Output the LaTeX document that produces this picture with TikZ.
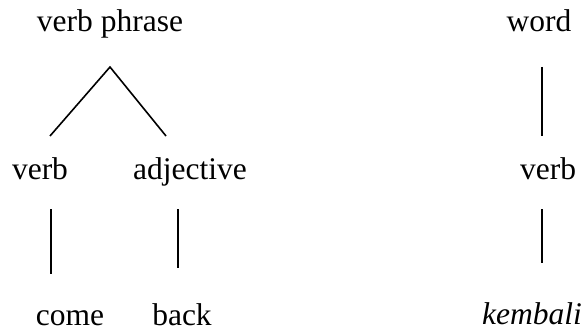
\documentclass[tikz,border=0pt]{standalone}
\usepackage{fontspec}
\setmainfont{Liberation Serif}
\usepackage{tikz}

\tikzset{
  lbl/.style={anchor=base, inner sep=0pt, font=\fontsize{31.5}{36}\selectfont},
  branch/.style={line width=1.6pt}
}

\begin{document}
\begin{tikzpicture}[x=1pt,y=-1pt]
  \useasboundingbox (0,0) rectangle (585,331);

  % left tree
  \node[lbl] (vp)   at (110,32)  {verb phrase};
  \node[lbl] (v)    at (40,179)  {verb};
  \node[lbl] (adj)  at (190,179) {adjective};
  \node[lbl] (come) at (70,325)  {come};
  \node[lbl] (back) at (182,325) {back};

  % right tree
  \node[lbl] (wd)   at (539,32)  {word};
  \node[lbl] (v2)   at (548,179) {verb};
  \node[lbl] (kb)   at (532,324) {\itshape kembali};

  % branch ends
  \coordinate (apex)  at (110,67);
  \coordinate (vtop)  at (50,136);
  \coordinate (atop)  at (166,136);
  \coordinate (vbot)  at (51,209);
  \coordinate (come1) at (51,274);
  \coordinate (abot)  at (178,209);
  \coordinate (back1) at (178,268);
  \coordinate (wbot)  at (542,67);
  \coordinate (v2top) at (542,136);
  \coordinate (v2bot) at (542,209);
  \coordinate (kbtop) at (542,263);

  \draw[branch] (vtop) -- (apex) -- (atop);
  \draw[branch] (vbot) -- (come1);
  \draw[branch] (abot) -- (back1);
  \draw[branch] (wbot) -- (v2top);
  \draw[branch] (v2bot) -- (kbtop);

\end{tikzpicture}
\end{document}
